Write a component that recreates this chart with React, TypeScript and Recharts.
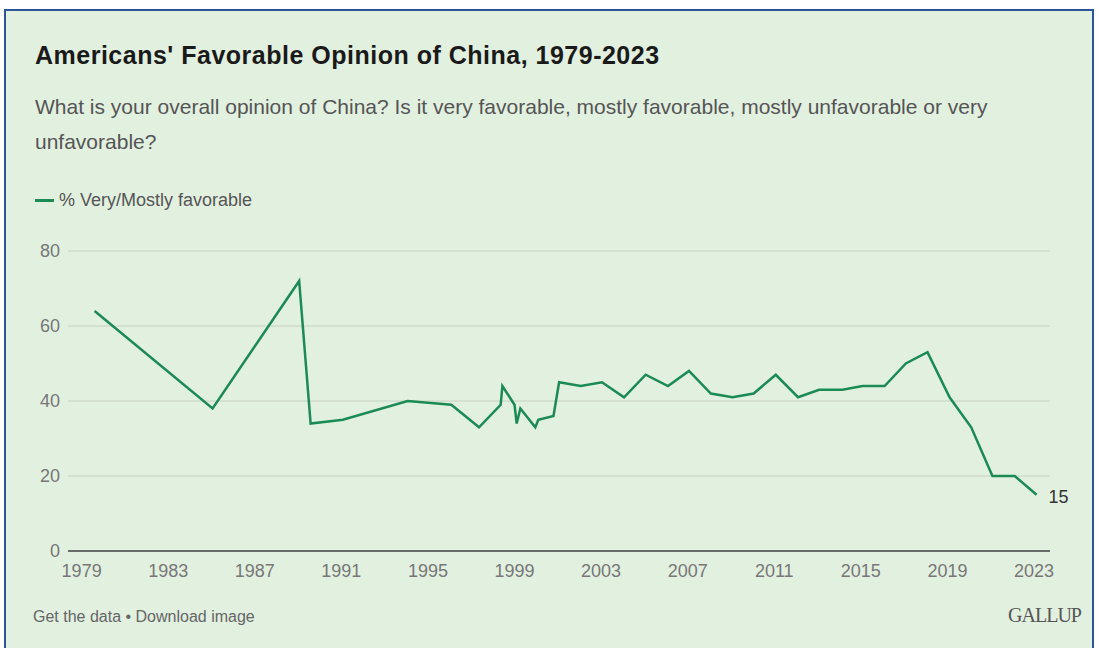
import React from 'react';
import { CartesianGrid, Line, LineChart, XAxis, YAxis } from 'recharts';

// survey dates (fractional year) and % very/mostly favorable
const years = [
	1979.6, 1985.05, 1989.05, 1989.58, 1991.07, 1994.06, 1996.08, 1997.36, 1998.36, 1998.44,
	1999.0, 1999.1, 1999.27, 1999.96, 2000.1, 2000.8, 2001.06, 2002.06, 2003.04, 2004.06,
	2005.06, 2006.09, 2007.06, 2008.07, 2009.07, 2010.05, 2011.07, 2012.1, 2013.07, 2014.15,
	2015.08, 2016.1, 2017.08, 2018.08, 2019.1, 2020.1, 2021.08, 2022.11, 2023.12,
];
const favorable = [
	64, 38, 72, 34, 35, 40, 39, 33, 39, 44,
	39, 34, 38, 33, 35, 36, 45, 44, 45, 41,
	47, 44, 48, 42, 41, 42, 47, 41, 43, 43,
	44, 44, 50, 53, 41, 33, 20, 20, 15,
];
const xTicks = [1979, 1983, 1987, 1991, 1995, 1999, 2003, 2007, 2011, 2015, 2019, 2023];
const yTicks = [0, 20, 40, 60, 80];

const data = years.map((year, i) => ({ year, value: favorable[i] }));

const FONT = '"Liberation Sans", Arial, sans-serif';
const GREEN = '#1b8a55';

const EndLabel = (props: any) => {
	const { x, y, index, value } = props;
	if (index !== data.length - 1) return null;
	return (
		<text x={x + 12} y={y + 3} fontSize={18} fill='#333' fontFamily={FONT} dominantBaseline='middle'>
			{value}
		</text>
	);
};

export default function App() {
	return (
		<div style={{ position: 'absolute', left: 0, top: 0, width: 1099, height: 648, overflow: 'hidden', background: '#fff', fontFamily: FONT }}>
			<div
				style={{
					position: 'absolute',
					left: 4,
					top: 9,
					width: 1086,
					height: 700,
					border: '2px solid #2e5597',
					background: '#e2f0e0',
				}}
			/>
			<div style={{ position: 'absolute', left: 35, top: 41, fontSize: 25, letterSpacing: 0.5, fontWeight: 'bold', color: '#1a1a1a', whiteSpace: 'nowrap' }}>
				Americans' Favorable Opinion of China, 1979-2023
			</div>
			<div style={{ position: 'absolute', left: 35, top: 89, fontSize: 21, lineHeight: '35px', color: '#555', whiteSpace: 'nowrap' }}>
				What is your overall opinion of China? Is it very favorable, mostly favorable, mostly unfavorable or very
				<br />
				unfavorable?
			</div>
			<div style={{ position: 'absolute', left: 35, top: 190, display: 'flex', alignItems: 'center', fontSize: 18, color: '#555' }}>
				<span style={{ display: 'inline-block', width: 19, height: 3, background: GREEN, marginRight: 5 }} />
				% Very/Mostly favorable
			</div>
			<div style={{ position: 'absolute', left: 33, top: 608, fontSize: 16, color: '#666', whiteSpace: 'nowrap' }}>
				Get the data • Download image
			</div>
			<div style={{ position: 'absolute', right: 18, top: 604, fontSize: 20, color: '#555', fontFamily: '"Liberation Serif", serif', letterSpacing: -1 }}>
				GALLUP
			</div>
			<div style={{ position: 'absolute', left: 0, top: 0 }}>
				<LineChart width={1099} height={648} data={data} margin={{ top: 251, right: 49, bottom: 67, left: 0 }}>
					<CartesianGrid vertical={false} stroke='#cfdccc' strokeWidth={1.5} />
					<XAxis
						dataKey='year'
						type='number'
						domain={[1978.37, 2023.74]}
						ticks={xTicks}
						allowDataOverflow
						height={30}
						tickLine={false}
						tickMargin={7}
						axisLine={{ stroke: '#444', strokeWidth: 1.5 }}
						tick={{ fontSize: 18, fill: '#777', fontFamily: FONT }}
					/>
					<YAxis
						domain={[0, 80]}
						ticks={yTicks}
						width={68}
						tickLine={false}
						axisLine={false}
						tickMargin={2}
						tick={{ fontSize: 18, fill: '#777', fontFamily: FONT }}
					/>
					<Line
						type='linear'
						dataKey='value'
						stroke={GREEN}
						strokeWidth={2.5}
						dot={false}
						isAnimationActive={false}
						label={EndLabel}
					/>
				</LineChart>
			</div>
		</div>
	);
}
